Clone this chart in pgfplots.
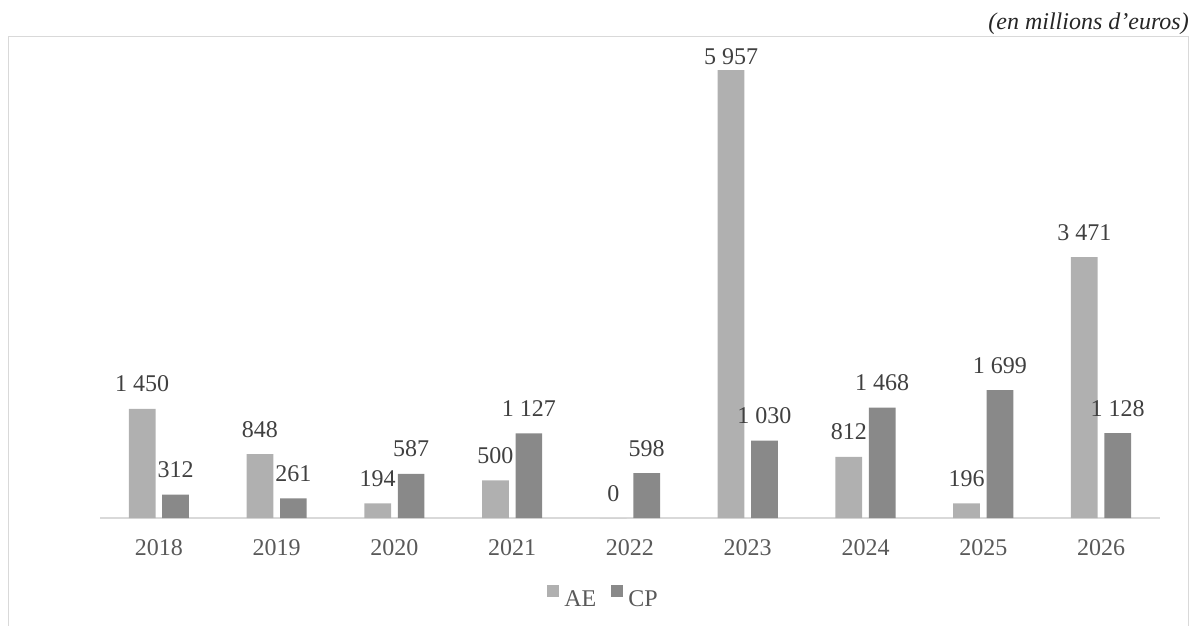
\documentclass[border=0pt]{standalone}
\usepackage{fontspec}
\setmainfont{Liberation Serif}
\usepackage{pgfplots}
\pgfplotsset{compat=1.18}

\definecolor{aegray}{HTML}{B0B0B0}
\definecolor{cpgray}{HTML}{898989}
\definecolor{framegray}{HTML}{D9D9D9}
\definecolor{labelgray}{HTML}{595959}
\definecolor{valuegray}{HTML}{404040}
\newcommand\chartfont{\fontsize{24bp}{28bp}\selectfont}

\begin{document}
\begin{tikzpicture}
\path[use as bounding box] (0,0) rectangle (1193bp,626bp);
% open frame (bottom edge is cut off in the reference)
\draw[framegray, line width=1.5bp] (8.5bp,0) -- (8.5bp,589.5bp) -- (1188.5bp,589.5bp) -- (1188.5bp,0);
\node[anchor=base east, inner sep=0, text=black!85, font=\chartfont\itshape] at (1189bp,596bp) {(en millions d’euros)};

\begin{axis}[
    at={(100bp,108bp)}, anchor=south west,
    scale only axis, width=1060bp, height=466.2bp,
    xmin=2017.5, xmax=2026.5,
    ymin=0, ymax=6200,
    axis x line*=bottom, axis y line=none,
    x axis line style={-, framegray, line width=1.5bp},
    xtick=data, major tick length=0,
    /pgf/number format/assume math mode=true,
    xticklabel style={font=\chartfont, text=labelgray, anchor=base, yshift=-37bp,
        /pgf/number format/1000 sep={}},
    ybar=6.7bp, bar width=26.7bp,
    clip=false,
    nodes near coords={\pgfmathprintnumber[fixed,precision=0,1000 sep={\ }]{\pgfplotspointmeta}},
    visualization depends on={ifthenelse(y>5000,6,17) \as \lift},
    every node near coord/.append style={anchor=base, yshift=\lift bp, inner sep=0,
        font=\chartfont, text=valuegray},
    legend columns=2,
    legend image code/.code={\fill[#1] (0bp,2bp) rectangle (12bp,14bp);},
    legend style={draw=none, fill=none, at={(0.4745,-0.1695)}, anchor=center,
        font=\chartfont, text=labelgray, nodes={inner sep=1bp},
        /tikz/every odd column/.append style={column sep=4bp},
        /tikz/every even column/.append style={column sep=14bp}},
]
\addplot[fill=aegray, draw=none] coordinates {
    (2018,1450) (2019,848) (2020,194) (2021,500) (2022,0)
    (2023,5957) (2024,812) (2025,196) (2026,3471)
};
\addplot[fill=cpgray, draw=none] coordinates {
    (2018,312) (2019,261) (2020,587) (2021,1127) (2022,598)
    (2023,1030) (2024,1468) (2025,1699) (2026,1128)
};
\legend{AE, CP}
\end{axis}
\end{tikzpicture}
\end{document}
